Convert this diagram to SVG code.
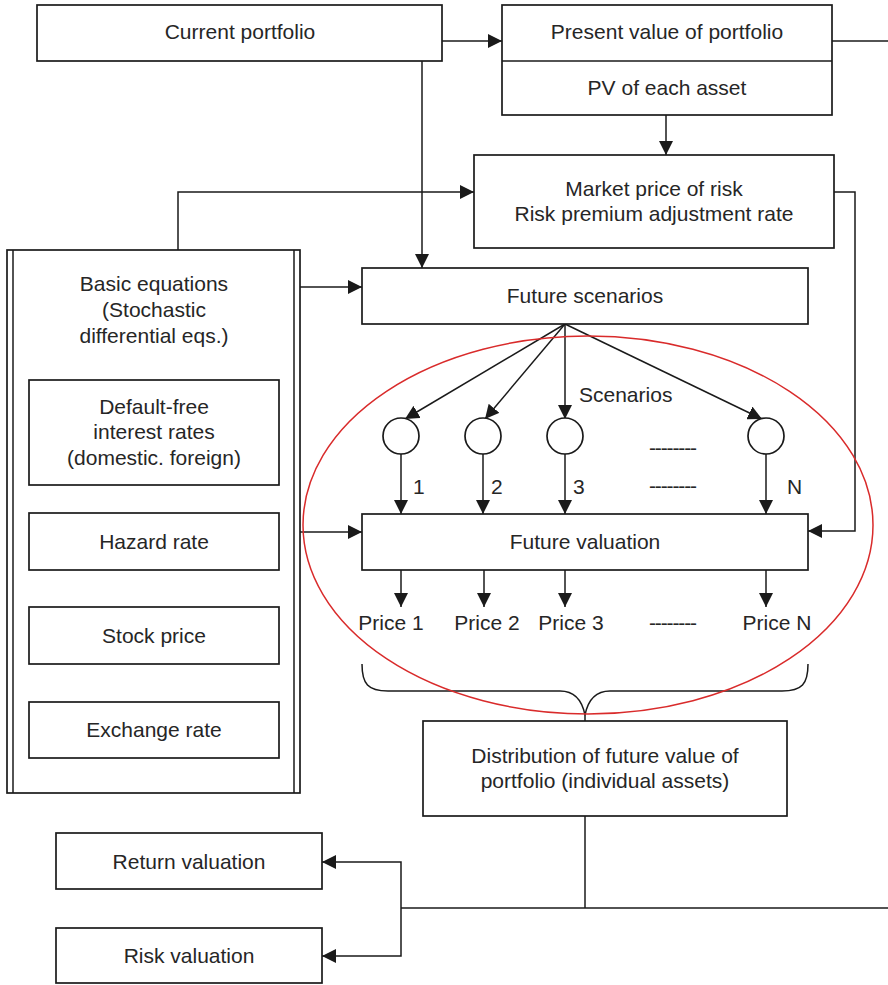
<svg xmlns="http://www.w3.org/2000/svg" width="888" height="985" viewBox="0 0 888 985">
  <style>
    .box { fill: #ffffff; stroke: #1a1a1a; stroke-width: 1.7; }
    .ln { fill: none; stroke: #1a1a1a; stroke-width: 1.5; }
    .arr { fill: none; stroke: #1a1a1a; stroke-width: 1.5; marker-end: url(#head); }
    .t { font-family: "Liberation Sans", Arial, sans-serif; font-size: 21px; fill: #262626; text-anchor: middle; }
    .tl { font-family: "Liberation Sans", Arial, sans-serif; font-size: 21px; fill: #262626; }
    .dots { font-family: "Liberation Sans", Arial, sans-serif; font-size: 21px; fill: #262626; }
  </style>
  <defs>
    <marker id="head" markerUnits="userSpaceOnUse" markerWidth="14" markerHeight="14" refX="14" refY="7" orient="auto">
      <path d="M0,0 L14,7 L0,14 Z" fill="#1a1a1a"/>
    </marker>
  </defs>

  <rect width="888" height="985" fill="#ffffff"/>

  <!-- connectors -->
  <g id="connectors">
    <line class="arr" x1="442" y1="41" x2="502" y2="41"/>
    <line class="ln" x1="832" y1="41" x2="888" y2="41"/>
    <line class="arr" x1="666" y1="115" x2="666" y2="155"/>
    <line class="arr" x1="422" y1="61" x2="422" y2="268"/>
    <polyline class="arr" points="178,250 178,192 474,192"/>
    <polyline class="arr" points="834,192 855,192 855,531 808,531"/>
    <line class="arr" x1="300" y1="287" x2="362" y2="287"/>
    <line class="arr" x1="300" y1="532" x2="362" y2="532"/>
    <!-- scenario fan -->
    <line class="arr" x1="565" y1="324" x2="405" y2="419"/>
    <line class="arr" x1="565" y1="324" x2="485" y2="419"/>
    <line class="arr" x1="565" y1="324" x2="565" y2="419"/>
    <line class="arr" x1="565" y1="324" x2="762" y2="419"/>
    <!-- scenario paths into valuation -->
    <line class="arr" x1="401" y1="454" x2="401" y2="514"/>
    <line class="arr" x1="483" y1="454" x2="483" y2="514"/>
    <line class="arr" x1="565" y1="454" x2="565" y2="514"/>
    <line class="arr" x1="766" y1="454" x2="766" y2="514"/>
    <!-- prices out -->
    <line class="arr" x1="401" y1="570" x2="401" y2="607"/>
    <line class="arr" x1="484" y1="570" x2="484" y2="607"/>
    <line class="arr" x1="565" y1="570" x2="565" y2="607"/>
    <line class="arr" x1="766" y1="570" x2="766" y2="607"/>
    <!-- brace gathering the prices -->
    <path class="ln" d="M362,664 C362,684 368,691 388,691 L560,691 C574,691 582,700 585,715 C588,700 596,691 610,691 L782,691 C802,691 808,684 808,664"/>
    <line class="ln" x1="585" y1="715" x2="585" y2="721"/>
    <!-- distribution to valuations -->
    <line class="ln" x1="585" y1="816" x2="585" y2="908"/>
    <line class="ln" x1="401" y1="908" x2="888" y2="908"/>
    <polyline class="arr" points="401,908 401,862 322,862"/>
    <polyline class="arr" points="401,908 401,956 322,956"/>
  </g>

  <g id="current-portfolio">
    <rect class="box" x="37" y="5" width="405" height="56"/>
    <text class="t" x="240" y="39">Current portfolio</text>
  </g>

  <g id="present-value">
    <rect class="box" x="502" y="5" width="330" height="110"/>
    <line class="ln" x1="502" y1="61" x2="832" y2="61"/>
    <text class="t" x="667" y="39">Present value of portfolio</text>
    <text class="t" x="667" y="95">PV of each asset</text>
  </g>

  <g id="market-price">
    <rect class="box" x="474" y="155" width="360" height="93"/>
    <text class="t" x="654" y="196">Market price of risk</text>
    <text class="t" x="654" y="221">Risk premium adjustment rate</text>
  </g>

  <g id="basic-equations">
    <rect class="box" x="7" y="250" width="293" height="543"/>
    <line class="ln" x1="13" y1="250" x2="13" y2="793"/>
    <line class="ln" x1="294" y1="250" x2="294" y2="793"/>
    <text class="t" x="154" y="291">Basic equations</text>
    <text class="t" x="154" y="317">(Stochastic</text>
    <text class="t" x="154" y="343">differential eqs.)</text>
  </g>

  <g id="default-free">
    <rect class="box" x="29" y="380" width="250" height="105"/>
    <text class="t" x="154" y="414">Default-free</text>
    <text class="t" x="154" y="439">interest rates</text>
    <text class="t" x="154" y="465">(domestic. foreign)</text>
  </g>

  <g id="hazard-rate">
    <rect class="box" x="29" y="513" width="250" height="57"/>
    <text class="t" x="154" y="549">Hazard rate</text>
  </g>

  <g id="stock-price">
    <rect class="box" x="29" y="607" width="250" height="57"/>
    <text class="t" x="154" y="643">Stock price</text>
  </g>

  <g id="exchange-rate">
    <rect class="box" x="29" y="702" width="250" height="56"/>
    <text class="t" x="154" y="737">Exchange rate</text>
  </g>

  <g id="future-scenarios">
    <rect class="box" x="362" y="268" width="446" height="56"/>
    <text class="t" x="585" y="303">Future scenarios</text>
  </g>

  <g id="scenarios">
    <text class="tl" x="579" y="402">Scenarios</text>
    <circle class="box" cx="401" cy="436" r="18"/>
    <circle class="box" cx="483" cy="436" r="18"/>
    <circle class="box" cx="565" cy="436" r="18"/>
    <circle class="box" cx="766" cy="436" r="18"/>
    <text class="dots" x="649" y="455" textLength="48" lengthAdjust="spacing">--------</text>
    <text class="dots" x="649" y="493" textLength="48" lengthAdjust="spacing">--------</text>
    <text class="tl" x="413" y="494">1</text>
    <text class="tl" x="491" y="494">2</text>
    <text class="tl" x="573" y="494">3</text>
    <text class="tl" x="787" y="494">N</text>
  </g>

  <g id="future-valuation">
    <rect class="box" x="362" y="514" width="446" height="56"/>
    <text class="t" x="585" y="549">Future valuation</text>
  </g>

  <g id="prices">
    <text class="t" x="391" y="630">Price 1</text>
    <text class="t" x="487" y="630">Price 2</text>
    <text class="t" x="571" y="630">Price 3</text>
    <text class="dots" x="649" y="630" textLength="48" lengthAdjust="spacing">--------</text>
    <text class="t" x="777" y="630">Price N</text>
  </g>

  <g id="distribution">
    <rect class="box" x="423" y="721" width="364" height="95"/>
    <text class="t" x="605" y="763">Distribution of future value of</text>
    <text class="t" x="605" y="788">portfolio (individual assets)</text>
  </g>

  <g id="return-valuation">
    <rect class="box" x="56" y="833" width="266" height="56"/>
    <text class="t" x="189" y="869">Return valuation</text>
  </g>

  <g id="risk-valuation">
    <rect class="box" x="56" y="928" width="266" height="55"/>
    <text class="t" x="189" y="963">Risk valuation</text>
  </g>

  <!-- highlight around the scenario simulation -->
  <g id="highlight">
    <ellipse cx="588" cy="525" rx="285" ry="189" fill="none" stroke="#d92b2b" stroke-width="1.5"/>
  </g>
</svg>
